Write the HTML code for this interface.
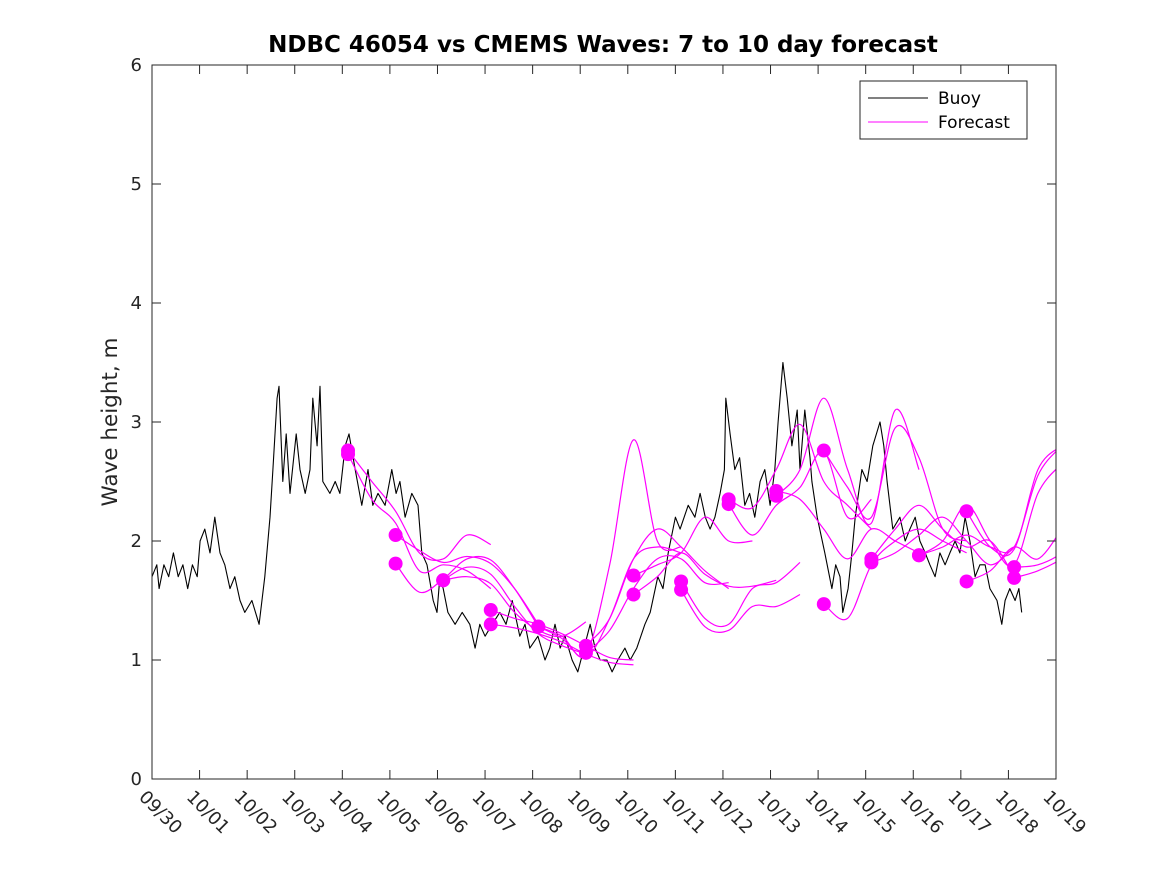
<!DOCTYPE html>
<html><head><meta charset="utf-8"><style>
body{margin:0;background:#fff}
svg{display:block;font-family:"DejaVu Sans","Liberation Sans",sans-serif}
</style></head><body>
<svg id="chart" width="1167" height="875" viewBox="0 0 1167 875">
<rect width="1167" height="875" fill="#fff"/>
<text x="603" y="52" text-anchor="middle" font-size="23" font-weight="bold" fill="#000">NDBC 46054 vs CMEMS Waves: 7 to 10 day forecast</text>
<text transform="translate(117,422) rotate(-90)" text-anchor="middle" font-size="21.5" fill="#262626">Wave height, m</text>
<g id="plot"></g>
<g>
<rect x="860" y="81" width="167" height="58" fill="#fff" stroke="#262626" stroke-width="1"/>
<line x1="868" y1="98" x2="928" y2="98" stroke="#000" stroke-width="1"/>
<text x="938" y="104" font-size="17" fill="#000">Buoy</text>
<line x1="868" y1="122" x2="928" y2="122" stroke="#f0f" stroke-width="1"/>
<text x="938" y="128" font-size="17" fill="#000">Forecast</text>
</g>
</svg>
<script>
const xTickLabels=["09/30","10/01","10/02","10/03","10/04","10/05","10/06","10/07","10/08","10/09","10/10","10/11","10/12","10/13","10/14","10/15","10/16","10/17","10/18","10/19"];
const yTicks=[0,1,2,3,4,5,6];
const buoyDays=[0,.1,.15,.25,.35,.45,.55,.65,.75,.85,.95,1.01,1.11,1.22,1.32,1.43,1.53,1.64,1.74,1.85,1.95,2.10,2.25,2.37,2.48,2.54,2.63,2.67,2.75,2.82,2.90,3.03,3.11,3.22,3.32,3.38,3.47,3.53,3.59,3.74,3.85,3.95,4.06,4.14,4.27,4.41,4.54,4.64,4.75,4.90,5.04,5.13,5.21,5.32,5.46,5.59,5.67,5.78,5.91,5.99,6.05,6.12,6.22,6.37,6.52,6.68,6.79,6.89,7.00,7.15,7.31,7.44,7.57,7.73,7.84,7.94,8.11,8.26,8.36,8.47,8.58,8.68,8.83,8.95,9.08,9.21,9.31,9.42,9.56,9.67,9.79,9.94,10.05,10.19,10.36,10.47,10.63,10.74,10.85,11.0,11.1,11.27,11.41,11.52,11.63,11.73,11.83,11.94,12.03,12.06,12.15,12.25,12.35,12.46,12.56,12.67,12.78,12.88,12.99,13.09,13.16,13.26,13.35,13.45,13.56,13.62,13.72,13.83,13.87,13.98,14.14,14.29,14.37,14.46,14.52,14.63,14.71,14.78,14.92,15.03,15.15,15.30,15.38,15.45,15.57,15.72,15.83,15.93,16.04,16.14,16.25,16.35,16.46,16.56,16.67,16.77,16.88,16.98,17.09,17.19,17.30,17.40,17.51,17.61,17.76,17.86,17.93,18.03,18.14,18.22,18.28];
const buoyVals=[1.7,1.8,1.6,1.8,1.7,1.9,1.7,1.8,1.6,1.8,1.7,2.0,2.1,1.9,2.2,1.9,1.8,1.6,1.7,1.5,1.4,1.5,1.3,1.7,2.2,2.6,3.2,3.3,2.5,2.9,2.4,2.9,2.6,2.4,2.6,3.2,2.8,3.3,2.5,2.4,2.5,2.4,2.8,2.9,2.6,2.3,2.6,2.3,2.4,2.3,2.6,2.4,2.5,2.2,2.4,2.3,1.9,1.8,1.5,1.4,1.7,1.6,1.4,1.3,1.4,1.3,1.1,1.3,1.2,1.3,1.4,1.3,1.5,1.2,1.3,1.1,1.2,1.0,1.1,1.3,1.1,1.2,1.0,0.9,1.1,1.3,1.1,1.0,1.0,0.9,1.0,1.1,1.0,1.1,1.3,1.4,1.7,1.6,1.9,2.2,2.1,2.3,2.2,2.4,2.2,2.1,2.2,2.4,2.6,3.2,2.9,2.6,2.7,2.3,2.4,2.2,2.5,2.6,2.3,2.6,3.0,3.5,3.2,2.8,3.1,2.6,3.1,2.7,2.5,2.2,1.9,1.6,1.8,1.7,1.4,1.6,1.9,2.2,2.6,2.5,2.8,3.0,2.8,2.5,2.1,2.2,2.0,2.1,2.2,2.0,1.9,1.8,1.7,1.9,1.8,1.9,2.0,1.9,2.2,2.0,1.7,1.8,1.8,1.6,1.5,1.3,1.5,1.6,1.5,1.6,1.4];
const fcStart=[4.12,4.12,5.12,5.12,6.12,6.12,7.12,7.12,8.12,8.12,9.12,9.12,10.12,10.12,11.12,11.12,12.12,12.12,13.12,13.12,14.12,14.12,15.12,15.12,16.12,16.12,17.12,17.12,18.12,18.12];
const fcVals=[
[2.76,2.5,2.25,1.9,1.85,2.05,1.97],
[2.73,2.35,2.15,1.75,1.8,1.75,1.6],
[2.05,1.92,1.82,1.87,1.81,1.6,1.3],
[1.81,1.57,1.68,1.85,1.84,1.6,1.28],
[1.67,1.70,1.64,1.40,1.25,1.2,1.32],
[1.67,1.78,1.72,1.45,1.22,1.12,1.05],
[1.42,1.35,1.30,1.22,1.12,1.02,1.0],
[1.30,1.27,1.22,1.15,1.05,0.98,0.96],
[1.28,1.2,1.05,1.8,2.85,2.0,1.95],
[1.28,1.18,1.02,1.35,1.85,1.95,1.9],
[1.12,1.35,1.85,2.1,1.95,1.75,1.6],
[1.06,1.25,1.6,1.85,1.85,1.65,1.65],
[1.71,1.8,1.9,2.2,2.0,2.0],
[1.55,1.7,1.9,1.72,1.62,1.62,1.67],
[1.66,1.35,1.3,1.6,1.65,1.82],
[1.59,1.28,1.25,1.45,1.45,1.55],
[2.35,2.28,2.6,2.98,2.5,2.3,2.1],
[2.31,2.05,2.3,2.45,2.75,2.2,2.35],
[2.42,2.35,2.1,1.85,2.1,2.0,1.9],
[2.38,2.6,3.2,2.6,2.15,3.1,2.6],
[2.76,2.45,2.2,2.95,2.7,2.1,2.0],
[1.47,1.35,1.8,2.0,2.1,2.0,1.9],
[1.82,1.9,2.05,2.2,2.0,1.8,1.95],
[1.85,2.1,2.3,2.1,1.95,2.0,1.7],
[1.88,1.95,2.05,1.95,1.95,2.55,2.8],
[1.88,2.0,2.3,2.0,1.8,2.4,2.65],
[2.25,1.95,1.93,2.6,2.8],
[1.66,1.75,1.95,1.85,2.1],
[1.78,1.8,1.9,2.1],
[1.69,1.75,1.85,2.0]];
const fcStep=0.5;

const X0=152,X1=1056,Y0=779,Y1=65,DMAX=19,VMAX=6;
const xs=d=>X0+(d/DMAX)*(X1-X0);
const ys=v=>Y0-(v/VMAX)*(Y0-Y1);
const NS="http://www.w3.org/2000/svg";
const plot=document.getElementById('plot');
function mk(t,a){const e=document.createElementNS(NS,t);for(const k in a)e.setAttribute(k,a[k]);return e;}

const bg=mk('rect',{x:X0,y:Y1,width:X1-X0,height:Y0-Y1,fill:'#fff'});


plot.appendChild(bg);

const cp=mk('clipPath',{id:'clip'});cp.appendChild(mk('rect',{x:X0,y:Y1,width:X1-X0,height:Y0-Y1}));plot.appendChild(cp);

let bp='';buoyDays.forEach((d,i)=>{bp+=(i?'L':'M')+xs(d).toFixed(1)+' '+ys(buoyVals[i]).toFixed(1);});
const bl=mk('path',{d:bp,fill:'none',stroke:'#000','stroke-width':1.1,'stroke-linejoin':'round'});


plot.appendChild(bl);

const fg=mk('g',{'clip-path':'url(#clip)'});plot.appendChild(fg);
fcVals.forEach((vals,k)=>{
  const pts=vals.map((v,i)=>[xs(fcStart[k]+i*fcStep),ys(v)]);
  let d='M'+pts[0][0]+' '+pts[0][1];
  for(let i=0;i<pts.length-1;i++){
    const p0=pts[Math.max(i-1,0)],p1=pts[i],p2=pts[i+1],p3=pts[Math.min(i+2,pts.length-1)];
    const c1=[p1[0]+(p2[0]-p0[0])/6,p1[1]+(p2[1]-p0[1])/6];
    const c2=[p2[0]-(p3[0]-p1[0])/6,p2[1]-(p3[1]-p1[1])/6];
    d+=`C${c1[0].toFixed(1)} ${c1[1].toFixed(1)} ${c2[0].toFixed(1)} ${c2[1].toFixed(1)} ${p2[0].toFixed(1)} ${p2[1].toFixed(1)}`;
  }
  const l=mk('path',{d:d,fill:'none',stroke:'#f0f','stroke-width':1.2});
  
  
  fg.appendChild(l);
  const c=mk('circle',{cx:pts[0][0],cy:pts[0][1],r:7,fill:'#f0f'});
  
  
  fg.appendChild(c);
});

const box=mk('rect',{x:X0,y:Y1,width:X1-X0,height:Y0-Y1,fill:'none',stroke:'#262626','stroke-width':1});


plot.appendChild(box);

xTickLabels.forEach((lab,i)=>{
  const x=xs(i);
  plot.appendChild(mk('line',{x1:x,y1:Y0,x2:x,y2:Y0-9,stroke:'#262626'}));
  plot.appendChild(mk('line',{x1:x,y1:Y1,x2:x,y2:Y1+9,stroke:'#262626'}));
  const t=mk('text',{transform:`translate(${x-14},${Y0+19}) rotate(45)`,'font-size':18,fill:'#262626'});
  
  
  t.textContent=lab;plot.appendChild(t);
});
yTicks.forEach(v=>{
  const y=ys(v);
  plot.appendChild(mk('line',{x1:X0,y1:y,x2:X0+9,y2:y,stroke:'#262626'}));
  plot.appendChild(mk('line',{x1:X1,y1:y,x2:X1-9,y2:y,stroke:'#262626'}));
  const t=mk('text',{x:X0-10,y:y+6,'text-anchor':'end','font-size':18,fill:'#262626'});
  
  
  t.textContent=v;plot.appendChild(t);
});
</script>
</body></html>
